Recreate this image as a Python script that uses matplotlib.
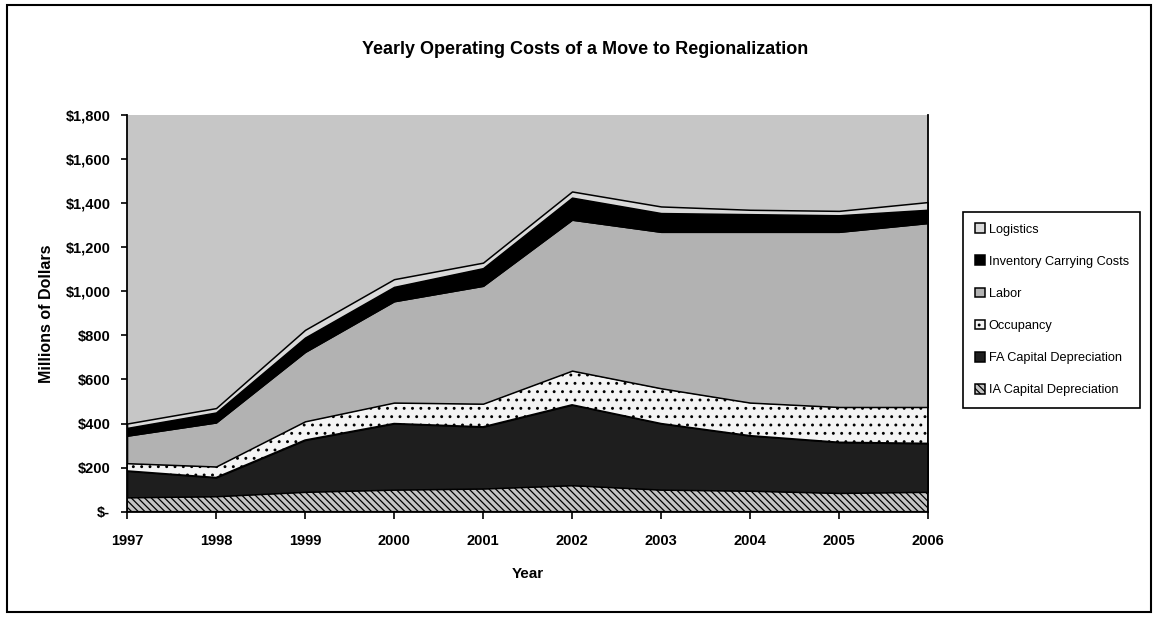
import matplotlib
matplotlib.use("Agg")
import matplotlib.pyplot as plt
from matplotlib.patches import Rectangle
from matplotlib.ticker import FuncFormatter

plt.rcParams['font.family'] = ['Liberation Sans', 'DejaVu Sans']
plt.rcParams['hatch.linewidth'] = 0.9

# Yearly operating costs, millions of dollars
years = [1997, 1998, 1999, 2000, 2001, 2002, 2003, 2004, 2005, 2006]
ia_capital_dep = [65, 70, 90, 100, 105, 120, 100, 95, 85, 90]
fa_capital_dep = [120, 85, 235, 300, 280, 365, 300, 250, 230, 220]
occupancy = [35, 50, 85, 95, 105, 155, 160, 150, 160, 165]
labor = [125, 200, 315, 460, 535, 685, 710, 775, 795, 835]
inventory_carrying = [35, 45, 65, 65, 80, 100, 85, 80, 75, 60]
logistics = [20, 20, 35, 35, 25, 28, 30, 20, 20, 35]

series_names = ["IA Capital Depreciation", "FA Capital Depreciation", "Occupancy",
                "Labor", "Inventory Carrying Costs", "Logistics"]
series_values = [ia_capital_dep, fa_capital_dep, occupancy, labor,
                 inventory_carrying, logistics]
y_ticks = [0, 200, 400, 600, 800, 1000, 1200, 1400, 1600, 1800]

fills = ["#c4c4c4", "#1e1e1e", "#f4f4f4", "#b2b2b2", "#000000", "#dadada"]
hatches = ["\\\\\\\\\\", None, "..", None, None, None]

fig = plt.figure(figsize=(11.58, 6.24), dpi=100)
ax = fig.add_axes([0.1097, 0.180, 0.6917, 0.6357])
ax.set_facecolor("#c6c6c6")

polys = ax.stackplot(years, *series_values, labels=series_names, colors=fills,
                     edgecolor="black", linewidth=1.1)
for poly, h in zip(polys, hatches):
    if h:
        poly.set_hatch(h)

ax.set_xlim(years[0], years[-1])
ax.set_ylim(0, 1800)
ax.set_xticks(years)
ax.set_yticks(y_ticks)


def money(v, pos):
    return "$-" if v == 0 else "${:,.0f}".format(v)


ax.yaxis.set_major_formatter(FuncFormatter(money))
for lab in ax.get_xticklabels() + ax.get_yticklabels():
    lab.set_fontweight("bold")
    lab.set_fontsize(10.5)
ax.tick_params(axis="x", direction="out", length=5, width=1.2, pad=11)
ax.tick_params(axis="y", direction="out", length=4, width=1.2, pad=8)

for side in ("left", "bottom", "right"):
    ax.spines[side].set_linewidth(1.3)
    ax.spines[side].set_color("black")
ax.spines["top"].set_visible(False)

ax.set_xlabel("Year", fontsize=11, fontweight="bold", labelpad=14)
ax.set_ylabel("Millions of Dollars", fontsize=11.5, fontweight="bold", labelpad=8)

fig.suptitle("Yearly Operating Costs of a Move to Regionalization", x=0.505, y=0.935,
             fontsize=13, fontweight="bold")

handles, labels = ax.get_legend_handles_labels()
leg = ax.legend(handles[::-1], labels[::-1], loc="upper left",
                bbox_to_anchor=(1.044, 0.756), borderaxespad=0,
                fontsize=9.2, frameon=True, fancybox=False,
                edgecolor="black", framealpha=1, labelspacing=1.55,
                borderpad=0.9, handlelength=0.8, handleheight=0.8,
                handletextpad=0.3)
leg.get_frame().set_linewidth(1.2)

fig.patches.append(Rectangle((0.006, 0.02), 0.988, 0.972, transform=fig.transFigure,
                             fill=False, edgecolor="black", linewidth=1.5))

fig.savefig("out.png", dpi=100)
